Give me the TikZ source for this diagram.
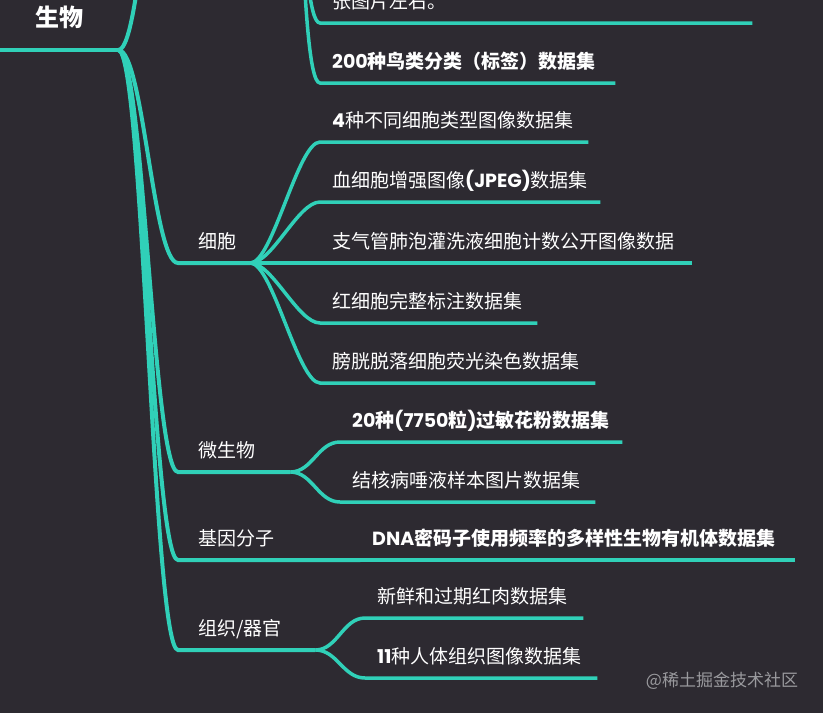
\documentclass[tikz,border=0pt]{standalone}
\usepackage{fontspec}
\setmainfont{Noto Sans CJK SC}
\newfontfamily\latfont{Poppins}
\newcommand\lat[1]{{\latfont\bfseries #1}}
\definecolor{Board}{HTML}{2D2A31}
\definecolor{Teal}{HTML}{30D0B8}
\definecolor{Ink}{HTML}{FFFFFF}
\definecolor{Faint}{HTML}{9A9A9E}

\begin{document}
\begin{tikzpicture}[x=1pt,y=-1pt,
    topic/.style={anchor=south west,inner sep=0pt,text width=#1,align=left,text height=16pt,text depth=14pt,text=Ink,font=\fontsize{19}{22}\selectfont},
    cat/.style={topic=#1,execute at begin node=\hspace*{20pt}},
    leaf/.style={topic=#1,execute at begin node=\hspace*{12pt}},
    head/.style={anchor=south west,inner sep=0pt,text width=#1,align=center,text height=18pt,text depth=23pt,text=Ink,font=\fontsize{24}{28}\selectfont\bfseries},
    trunk/.style={draw=Teal,line width=4pt},
    twig/.style={draw=Teal,line width=3.5pt}
  ]
    \useasboundingbox (0,0) rectangle (823,713);
    \fill[Board] (0,0) rectangle (823,713);
    \clip (0,0) rectangle (823,713);

    % root and the four visible branches
    \node[head=118pt] (root) at (0,50) {生物};
    \coordinate (upper) at (178,-250);
    \coordinate (upperfork) at (282,-250);
    \node[cat=72pt] (cell) at (178,263) {细胞};
    \node[cat=112pt] (micro) at (178,472) {微生物};
    \node[cat=182pt] (gene) at (178,560) {基因分子};
    \node[cat=137pt] (tissue) at (178,650) {组织/器官};

    % leaves
    \node[leaf=432pt] (tail) at (320,23) {张图片左右。};
    \node[leaf=295pt] (bird) at (320,83) {\bfseries\lat{200}种鸟类分类（标签）数据集};
    \node[leaf=268pt] (four) at (320,142) {\lat{4}种不同细胞类型图像数据集};
    \node[leaf=280pt] (blood) at (320,202) {血细胞增强图像\lat{(JPEG)}数据集};
    \node[leaf=372pt] (balf) at (320,263) {支气管肺泡灌洗液细胞计数公开图像数据};
    \node[leaf=217pt] (rbc) at (320,323) {红细胞完整标注数据集};
    \node[leaf=275pt] (bladder) at (320,383) {膀胱脱落细胞荧光染色数据集};
    \node[leaf=282pt] (pollen) at (340,442) {\bfseries\lat{20}种\lat{(7750}粒\lat{)}过敏花粉数据集};
    \node[leaf=255pt] (tb) at (340,502) {结核病唾液样本图片数据集};
    \node[leaf=435pt] (dna) at (360,560) {\bfseries\lat{DNA}密码子使用频率的多样性生物有机体数据集};
    \node[leaf=218pt] (meat) at (365,618) {新鲜和过期红肉数据集};
    \node[leaf=232pt] (organ) at (365,678) {\lat{11}种人体组织图像数据集};

    \node[font=\fontsize{17}{20}\selectfont,text=Faint] (wm) at (722,681) {@稀土掘金技术社区};

    % connectors
    \draw[trunk] (root.south west) -- (root.south east);
    \draw[trunk] (root.south east) .. controls +(25,0) and +(-25,0) .. (upper) -- (upperfork);
    \draw[trunk] (root.south east) .. controls +(25,0) and +(-25,0) .. (cell.south west) -- (cell.south east);
    \draw[trunk] (root.south east) .. controls +(25,0) and +(-25,0) .. (micro.south west) -- (micro.south east);
    \draw[trunk] (root.south east) .. controls +(25,0) and +(-25,0) .. (gene.south west) -- (gene.south east);
    \draw[trunk] (root.south east) .. controls +(25,0) and +(-25,0) .. (tissue.south west) -- (tissue.south east);

    \draw[twig] (upperfork) .. controls +(22,0) and +(-22,0) .. (tail.south west) -- (tail.south east);
    \draw[twig] (upperfork) .. controls +(22,0) and +(-22,0) .. (bird.south west) -- (bird.south east);
    \draw[twig] (cell.south east) .. controls +(22,0) and +(-22,0) .. (four.south west) -- (four.south east);
    \draw[twig] (cell.south east) .. controls +(22,0) and +(-22,0) .. (blood.south west) -- (blood.south east);
    \draw[twig] (cell.south east) .. controls +(22,0) and +(-22,0) .. (balf.south west) -- (balf.south east);
    \draw[twig] (cell.south east) .. controls +(22,0) and +(-22,0) .. (rbc.south west) -- (rbc.south east);
    \draw[twig] (cell.south east) .. controls +(22,0) and +(-22,0) .. (bladder.south west) -- (bladder.south east);
    \draw[twig] (micro.south east) .. controls +(22,0) and +(-22,0) .. (pollen.south west) -- (pollen.south east);
    \draw[twig] (micro.south east) .. controls +(22,0) and +(-22,0) .. (tb.south west) -- (tb.south east);
    \draw[twig] (gene.south east) -- (dna.south west) -- (dna.south east);
    \draw[twig] (tissue.south east) .. controls +(22,0) and +(-22,0) .. (meat.south west) -- (meat.south east);
    \draw[twig] (tissue.south east) .. controls +(22,0) and +(-22,0) .. (organ.south west) -- (organ.south east);
  \end{tikzpicture}
\end{document}
